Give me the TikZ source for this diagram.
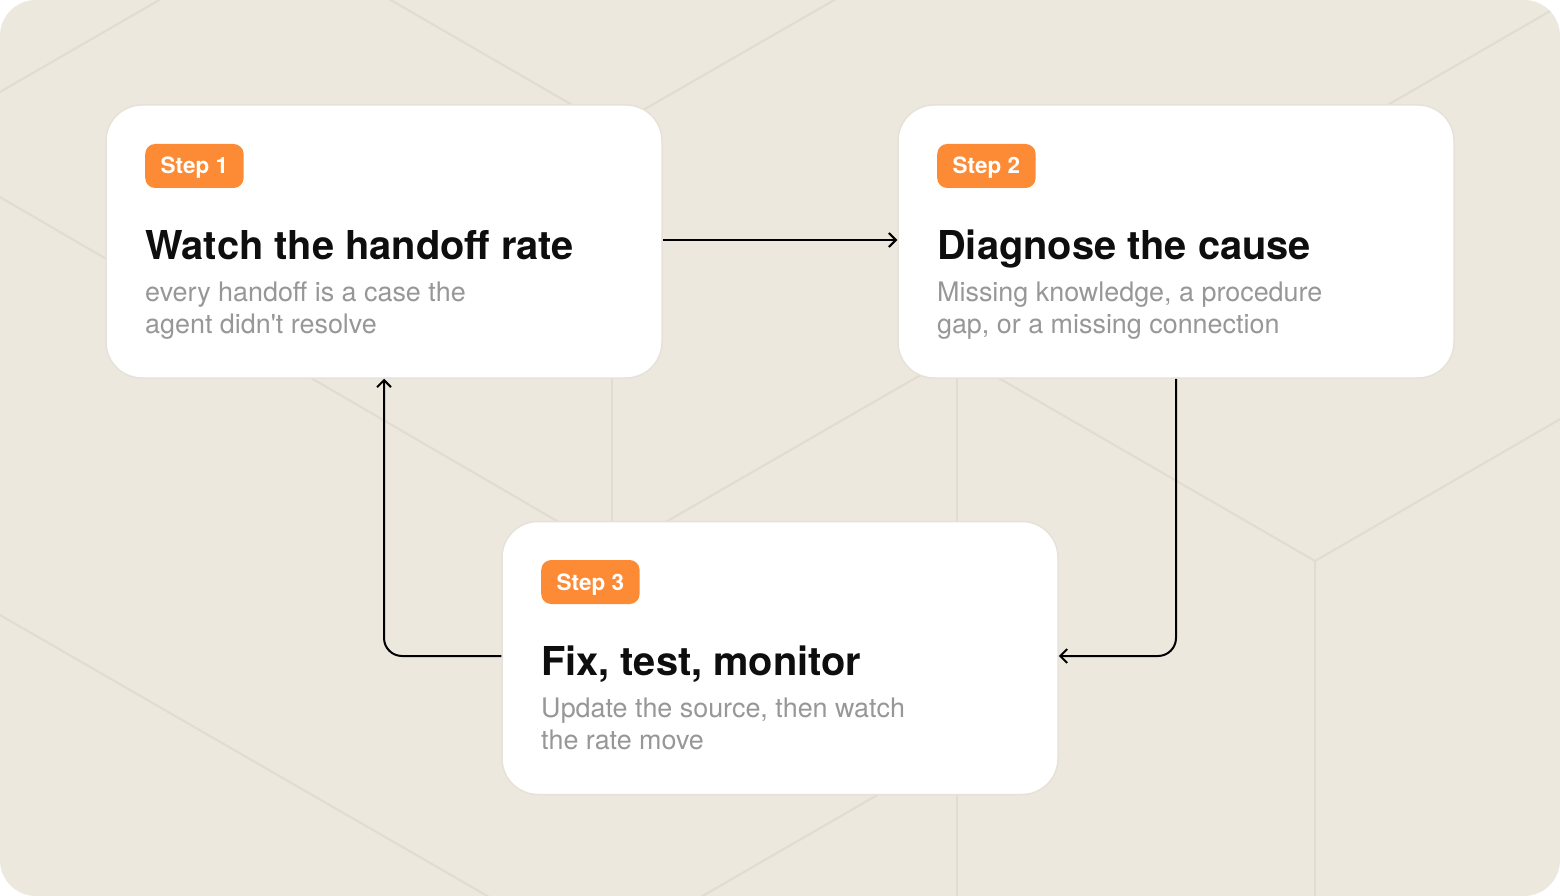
\documentclass[tikz,border=0pt]{standalone}
\usepackage{fontspec}
\setmainfont{TeX Gyre Heros}
\usetikzlibrary{arrows.meta}
\definecolor{bgc}{HTML}{EDE8DD}
\definecolor{linec}{HTML}{E1DCD1}
\definecolor{boxedge}{HTML}{E7E2D9}
\definecolor{badgec}{HTML}{FD8B36}
\definecolor{subc}{HTML}{979797}
\definecolor{titlec}{HTML}{0E0E0E}
\tikzset{
  bgline/.style={draw=linec, line width=2pt},
  card/.style={draw=boxedge, line width=1.5pt, fill=white, rounded corners=36pt,
    minimum width=556pt, minimum height=273pt, inner sep=0pt},
  badge/.style={fill=badgec, text=white, rounded corners=10pt, minimum height=44pt,
    inner xsep=15.5pt, inner ysep=0pt, font=\fontsize{22.5}{26}\selectfont\bfseries,
    text height=16pt, text depth=0pt, anchor=west},
  cardtitle/.style={anchor=base west, inner sep=0pt, text=titlec,
    font=\fontsize{39.8}{44}\selectfont\bfseries},
  cardsub/.style={anchor=base west, inner sep=0pt, text=subc, align=left,
    font=\fontsize{26.9}{32}\selectfont},
  flow/.style={draw=black, line width=2pt, -{Straight Barb[length=7pt,width=14pt]},
    rounded corners=18pt}
}
\begin{document}
\begin{tikzpicture}[x=1pt,y=-1pt]
\useasboundingbox (0,0) rectangle (1560,896);
\fill[white] (0,0) rectangle (1560,896);
\fill[bgc, rounded corners=36pt] (0,0) rectangle (1560,896);
\begin{scope}
  \clip[rounded corners=36pt] (0,0) rectangle (1560,896);
  \draw[bgline] (-20,103.5) -- (180,-12);
  \draw[bgline] (370,-12) -- (612,128) -- (855,-12);
  \draw[bgline] (612,128) -- (612,553);
  \draw[bgline] (-20,185.5) -- (612,553) -- (957,354) -- (1315,561) -- (1600,396);
  \draw[bgline] (957,354) -- (957,910);
  \draw[bgline] (1315,561) -- (1315,910);
  \draw[bgline] (1315,147) -- (1590,-12);
  \draw[bgline] (-20,603.5) -- (510,909);
  \draw[bgline] (957,749) -- (680,909);
\end{scope}
% cards
\node[card] (c1) at (384,241.5) {};
\node[card] (c2) at (1176,241.5) {};
\node[card] (c3) at (780,658) {};
% connectors
\draw[flow] (c1.east |- 0,240) -- (c2.west |- 0,240);
\draw[flow] (c2.south) |- (c3.east |- 0,656);
\draw[flow] (c3.west |- 0,656) -| (c1.south);
% card 1
\node[badge] (b1) at (145,166) {Step 1};
\node[cardtitle] (t1) at (145,259) {Watch the handoff rate};
\node[cardsub] (s1) at (145,333) {every handoff is a case the\\agent didn\textquotesingle t resolve};
% card 2
\node[badge] (b2) at (937,166) {Step 2};
\node[cardtitle] (t2) at (937,259) {Diagnose the cause};
\node[cardsub] (s2) at (937,333) {Missing knowledge, a procedure\\gap, or a missing connection};
% card 3
\node[badge] (b3) at (541,582) {Step 3};
\node[cardtitle] (t3) at (541,675) {Fix, test, monitor};
\node[cardsub] (s3) at (541,749) {Update the source, then watch\\the rate move};
\end{tikzpicture}
\end{document}
